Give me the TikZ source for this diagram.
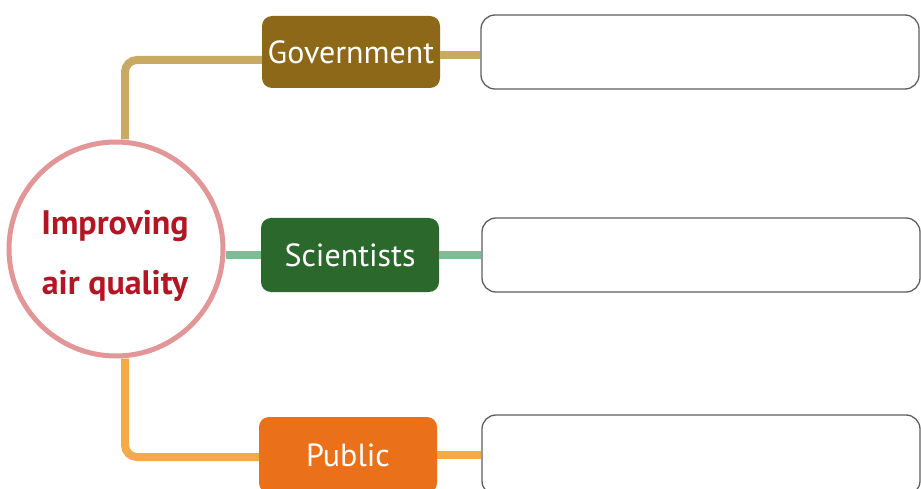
\documentclass[tikz,border=0pt]{standalone}
\usepackage{fontspec}
\setmainfont{PT Sans}
\definecolor{govfill}{RGB}{140,104,24}
\definecolor{govline}{RGB}{200,170,100}
\definecolor{scifill}{RGB}{42,104,44}
\definecolor{sciline}{RGB}{122,190,150}
\definecolor{pubfill}{RGB}{234,113,26}
\definecolor{publine}{RGB}{244,170,72}
\definecolor{ringcol}{RGB}{226,150,152}
\definecolor{titlered}{RGB}{178,22,34}
\definecolor{boxedge}{RGB}{95,95,95}
\tikzset{
  catbox/.style={rounded corners=10pt, minimum width=178pt, minimum height=72pt, text=white, font=\fontsize{32}{34}\selectfont, inner sep=0pt},
  ansbox/.style={draw=boxedge, line width=1.3pt, rounded corners=14pt, minimum width=438pt, minimum height=74pt, fill=white, inner sep=0pt},
  conn/.style={line width=8pt},
}
\begin{document}
\begin{tikzpicture}[x=1pt,y=-1pt]
\useasboundingbox[fill=white] (0,0) rectangle (921,489);
\node[ansbox] (ans1) at (700,52) {};
\node[ansbox] (ans2) at (701,255) {};
\node[ansbox, minimum height=80pt] (ans3) at (701,455) {};
\node[catbox, fill=govfill] (gov) at (351,52) {Government};
\node[catbox, fill=scifill, minimum height=74pt] (sci) at (350,255) {Scientists};
\node[catbox, fill=pubfill, minimum height=76pt] (pub) at (348,455) {Public};
\node[circle, draw=ringcol, line width=5pt, fill=white, minimum size=214pt, inner sep=0pt] (circ) at (116,249) {};
\node[align=center, text=titlered, font=\bfseries\fontsize{34}{60}\selectfont, inner sep=0pt] (title) at (115,256) {Improving\\air quality};
\draw[conn, govline, rounded corners=12pt] ([xshift=9pt]circ.north) |- ([yshift=-8pt]gov.west);
\draw[conn, govline] ([yshift=-3pt]gov.east) -- ([yshift=-3pt]ans1.west);
\draw[conn, sciline] (circ.east |- sci.west) -- (sci.west);
\draw[conn, sciline] (sci.east) -- (ans2.west);
\draw[conn, publine, rounded corners=12pt] ([xshift=9pt]circ.south) |- ([yshift=-2pt]pub.west);
\draw[conn, publine] (pub.east) -- (ans3.west);
\end{tikzpicture}
\end{document}
